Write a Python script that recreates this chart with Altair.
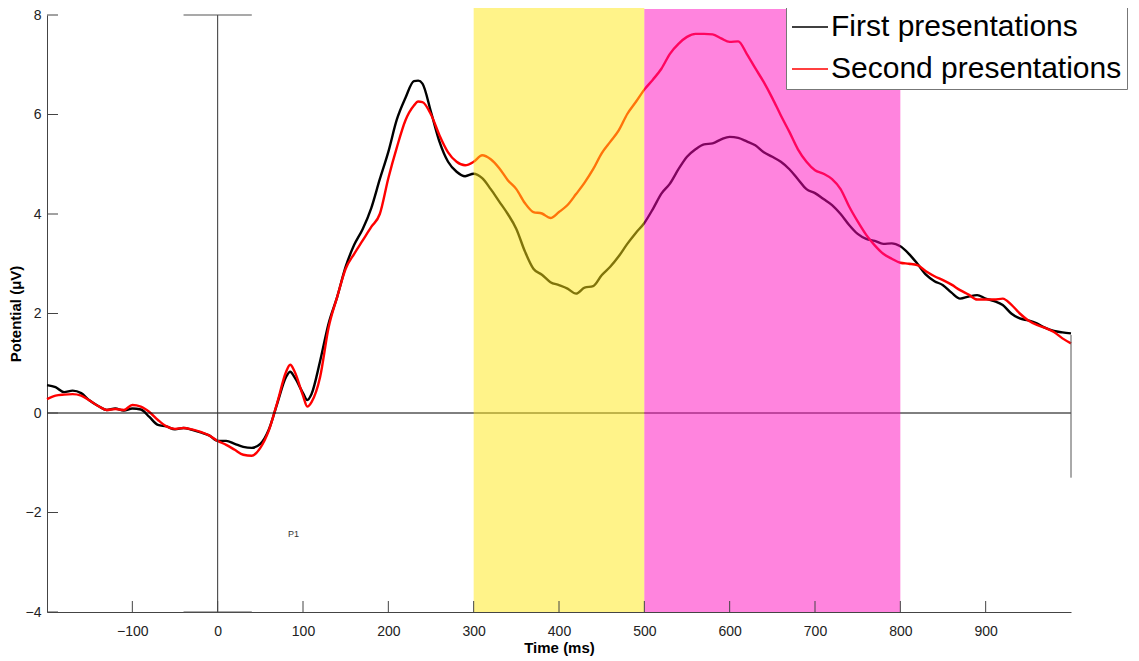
import altair as alt
import pandas as pd

# time points (ms)
times = [-200, -190, -180, -170, -160, -150, -140, -130, -120, -110,
         -100, -90, -80, -70, -60, -50, -40, -30, -20, -10,
         0, 10, 20, 30, 40, 50, 60, 70, 80, 85,
         90, 100, 105, 110, 120, 130, 140, 150, 160, 170,
         180, 190, 200, 210, 220, 230, 235, 240, 250, 260,
         270, 280, 290, 300, 310, 320, 330, 340, 350, 360,
         370, 380, 390, 400, 410, 420, 430, 440, 450, 460,
         470, 480, 490, 500, 510, 520, 530, 540, 550, 560,
         570, 580, 590, 600, 610, 620, 630, 640, 650, 660,
         670, 680, 690, 700, 710, 720, 730, 740, 750, 760,
         770, 780, 790, 800, 810, 820, 830, 840, 850, 860,
         870, 880, 890, 900, 910, 920, 930, 940, 950, 960,
         970, 980, 990, 1000]

first = [0.56, 0.52, 0.42, 0.45, 0.40, 0.25, 0.14, 0.06, 0.09, 0.05,
         0.09, 0.07, -0.08, -0.24, -0.27, -0.33, -0.30, -0.34, -0.39, -0.45,
         -0.56, -0.56, -0.62, -0.68, -0.70, -0.62, -0.33, 0.20, 0.72, 0.83,
         0.72, 0.40, 0.26, 0.38, 1.04, 1.80, 2.33, 2.94, 3.38, 3.70,
         4.12, 4.70, 5.25, 5.90, 6.33, 6.67, 6.68, 6.62, 6.05, 5.45,
         5.05, 4.85, 4.76, 4.81, 4.72, 4.50, 4.25, 4.00, 3.70, 3.25,
         2.90, 2.78, 2.63, 2.57, 2.50, 2.40, 2.52, 2.55, 2.77, 2.94,
         3.15, 3.40, 3.62, 3.82, 4.10, 4.41, 4.61, 4.90, 5.15, 5.30,
         5.40, 5.42, 5.50, 5.55, 5.53, 5.46, 5.38, 5.24, 5.15, 5.05,
         4.90, 4.70, 4.50, 4.42, 4.30, 4.18, 4.00, 3.78, 3.60, 3.50,
         3.46, 3.40, 3.41, 3.35, 3.20, 3.00, 2.78, 2.65, 2.57, 2.42,
         2.30, 2.34, 2.37, 2.30, 2.25, 2.17, 2.00, 1.90, 1.86, 1.80,
         1.71, 1.65, 1.62, 1.60]

second = [0.28, 0.35, 0.37, 0.38, 0.35, 0.25, 0.14, 0.06, 0.08, 0.06,
          0.16, 0.13, 0.02, -0.14, -0.27, -0.32, -0.30, -0.33, -0.38, -0.45,
          -0.56, -0.64, -0.74, -0.84, -0.86, -0.70, -0.35, 0.22, 0.82, 0.97,
          0.84, 0.35, 0.13, 0.22, 0.72, 1.72, 2.33, 2.90, 3.20, 3.47,
          3.74, 4.00, 4.72, 5.34, 5.88, 6.18, 6.26, 6.25, 6.00, 5.58,
          5.24, 5.05, 4.98, 5.05, 5.18, 5.10, 4.92, 4.68, 4.50, 4.22,
          4.04, 4.01, 3.92, 4.04, 4.18, 4.40, 4.63, 4.90, 5.22, 5.45,
          5.68, 6.01, 6.25, 6.50, 6.70, 6.92, 7.22, 7.42, 7.56, 7.62,
          7.62, 7.61, 7.53, 7.46, 7.47, 7.22, 6.93, 6.65, 6.33, 5.98,
          5.65, 5.30, 5.05, 4.88, 4.81, 4.70, 4.50, 4.15, 3.85, 3.58,
          3.37, 3.20, 3.10, 3.02, 3.00, 2.97, 2.85, 2.75, 2.67, 2.58,
          2.47, 2.38, 2.28, 2.28, 2.28, 2.30, 2.18, 2.00, 1.86, 1.77,
          1.71, 1.63, 1.50, 1.40]

series_names = ["First presentations", "Second presentations"]
series_colors = ["#000000", "#ff0000"]

# shaded windows
win_start = [300, 500]
win_end = [500, 800]
win_top = [8.15, 8.12]
win_colors = ["#ffe714", "#ff0abd"]

x_ticks = [-100, 0, 100, 200, 300, 400, 500, 600, 700, 800, 900]
y_ticks = [-4, -2, 0, 2, 4, 6, 8]

FONT = "Liberation Sans"
AX = "#444444"

df = pd.DataFrame({
    "Time": times * 2,
    "Potential": first + second,
    "Condition": [series_names[0]] * len(times) + [series_names[1]] * len(times),
})

x_scale = alt.Scale(domain=[-200, 1000], nice=False, zero=False)
y_scale = alt.Scale(domain=[-4, 8], nice=False, zero=False)
x_axis = alt.Axis(values=x_ticks, title="Time (ms)", ticks=False, labelPadding=12,
                  titlePadding=2, grid=False)
y_axis = alt.Axis(values=y_ticks, title="Potential (μV)", ticks=False, labelPadding=6,
                  titlePadding=2, grid=False)

lines = alt.Chart(df).mark_line(strokeWidth=2.4, interpolate="monotone").encode(
    x=alt.X("Time:Q", scale=x_scale, axis=x_axis),
    y=alt.Y("Potential:Q", scale=y_scale, axis=y_axis),
    color=alt.Color("Condition:N",
                    scale=alt.Scale(domain=series_names, range=series_colors),
                    legend=alt.Legend(orient="none", legendX=739, legendY=-12, title=None,
                                      symbolType="stroke", symbolSize=1296, symbolStrokeWidth=1.5,
                                      labelFontSize=30, labelFont=FONT, labelColor="#000",
                                      labelOffset=2, labelLimit=500, padding=5, rowPadding=8,
                                      strokeColor="#777", fillColor="white", cornerRadius=0)),
)

zero_line = alt.Chart(pd.DataFrame({"Potential": [0]})).mark_rule(color="#000", strokeWidth=1).encode(
    y=alt.Y("Potential:Q", axis=y_axis)
)

onset = alt.Chart(pd.DataFrame({"Time": [0], "Potential": [-4], "hi": [8]})).mark_rule(
    color="#333", strokeWidth=1).encode(
    x=alt.X("Time:Q", axis=x_axis), y=alt.Y("Potential:Q", axis=y_axis), y2="hi:Q"
)

caps = alt.Chart(pd.DataFrame({"Time": [-40, -40], "b": [40, 40], "Potential": [8, -4]})).mark_rule(
    color="#555", strokeWidth=1.2).encode(
    x=alt.X("Time:Q", axis=x_axis), x2="b:Q", y=alt.Y("Potential:Q", axis=y_axis)
)

end_mark = alt.Chart(pd.DataFrame({"Time": [1000], "Potential": [-1.3], "hi": [1.57]})).mark_rule(
    color="#555", strokeWidth=1).encode(
    x=alt.X("Time:Q", axis=x_axis), y=alt.Y("Potential:Q", axis=y_axis), y2="hi:Q"
)

wins = pd.DataFrame({"Time": win_start, "e": win_end, "Potential": [-4, -4], "t": win_top})
yellow = alt.Chart(wins.iloc[[0]]).mark_rect(color=win_colors[0], opacity=0.5).encode(
    x=alt.X("Time:Q", axis=x_axis), x2="e:Q", y=alt.Y("Potential:Q", axis=y_axis), y2="t:Q"
)
magenta = alt.Chart(wins.iloc[[1]]).mark_rect(color=win_colors[1], opacity=0.5).encode(
    x=alt.X("Time:Q", axis=x_axis), x2="e:Q", y=alt.Y("Potential:Q", axis=y_axis), y2="t:Q"
)

p1 = alt.Chart(pd.DataFrame({"Time": [89], "Potential": [-2.43], "label": ["P1"]})).mark_text(
    font=FONT, fontSize=9, color="#333").encode(
    x=alt.X("Time:Q", axis=x_axis), y=alt.Y("Potential:Q", axis=y_axis), text="label:N"
)

xtick_marks = alt.Chart(pd.DataFrame({"Time": x_ticks})).mark_rule(color=AX).encode(
    x=alt.X("Time:Q", axis=x_axis), y=alt.value(597), y2=alt.value(586)
)
ytick_marks = alt.Chart(pd.DataFrame({"Potential": y_ticks})).mark_rule(color=AX).encode(
    y=alt.Y("Potential:Q", axis=y_axis), x=alt.value(0), x2=alt.value(11)
)

chart = alt.layer(
    lines, zero_line, onset, caps, end_mark, yellow, magenta, p1, xtick_marks, ytick_marks
).properties(
    width=1024, height=597,
    background="white",
    autosize=alt.AutoSizeParams(type="none"),
    padding={"left": 39, "top": 7, "right": 60, "bottom": 47},
).configure_view(
    strokeWidth=0
).configure_axis(
    domainColor=AX, labelFont=FONT, labelFontSize=14, labelColor="#222",
    titleFont=FONT, titleFontSize=15, titleFontWeight="bold", titleColor="#000",
)

chart.save("out.html", embed_options={"renderer": "svg", "actions": False})
